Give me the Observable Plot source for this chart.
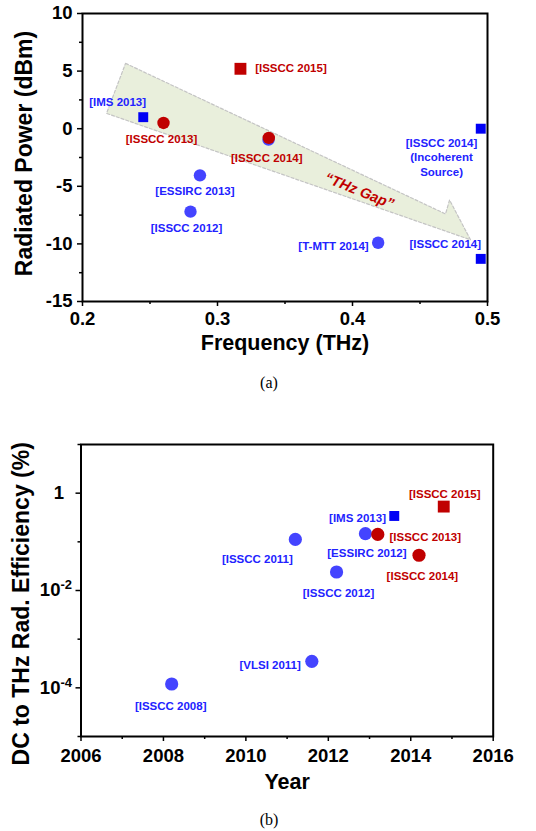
<!DOCTYPE html>
<html><head><meta charset="utf-8">
<script src="https://cdn.jsdelivr.net/npm/d3@7"></script>
<script src="https://cdn.jsdelivr.net/npm/@observablehq/plot@0.6"></script>
<style>
body{margin:0;background:#fff;}
#wrap{position:relative;width:536px;height:831px;overflow:hidden;background:#fff;}
#wrap svg{position:absolute;left:0;overflow:visible;}
.cap{position:absolute;left:0;width:538px;text-align:center;font-family:"Liberation Serif","Times New Roman",serif;font-size:16px;line-height:20px;color:#000;}
</style></head><body>
<div id="wrap">
  <div class="cap" style="top:373px">(a)</div>
  <div class="cap" style="top:810px">(b)</div>
</div>
<script>
// ---------- Panel (a): Radiated power vs frequency ----------
const aBlueCircleRef   = ["[ESSIRC 2013]", "[ISSCC 2012]", "[T-MTT 2014]", ""];
const aBlueCircleFreq  = [0.287, 0.280, 0.419, 0.3378];
const aBlueCirclePower = [-4.05, -7.2, -9.9, -0.95];

const aBlueSquareRef   = ["[IMS 2013]", "[ISSCC 2014]\n(Incoherent\nSource)", "[ISSCC 2014]"];
const aBlueSquareFreq  = [0.245, 0.495, 0.495];
const aBlueSquarePower = [1.0, 0.0, -11.3];

const aRedCircleRef    = ["[ISSCC 2013]", "[ISSCC 2014]"];
const aRedCircleFreq   = [0.260, 0.338];
const aRedCirclePower  = [0.5, -0.8];

const aRedSquareRef    = ["[ISSCC 2015]"];
const aRedSquareFreq   = [0.317];
const aRedSquarePower  = [5.2];

// "THz Gap" arrow outline (data units)
const gapArrowFreq  = [0.2319, 0.4689, 0.4719, 0.4874, 0.2178, 0.2319];
const gapArrowPower = [5.67, -7.40, -6.19, -9.64, 1.33, 5.67];
const gapLabel      = ["\u201CTHz Gap\u201D"];
const gapLabelFreq  = [0.405];
const gapLabelPower = [-5.4];

const aXTicks = [0.2, 0.3, 0.4, 0.5];
const aXMinor = [0.25, 0.35, 0.45];
const aYTicks = [-15, -10, -5, 0, 5, 10];
const aYMinor = [-12.5, -7.5, -2.5, 2.5, 7.5];

// ---------- Panel (b): DC-to-THz radiation efficiency vs year ----------
const bBlueCircleRef  = ["[ISSCC 2008]", "[VLSI 2011]", "[ISSCC 2011]", "[ISSCC 2012]", "[ESSIRC 2012]"];
const bBlueCircleYear = [2008.2, 2011.6, 2011.2, 2012.2, 2012.9];
const bBlueCircleEff  = [1.2e-4, 3.5e-4, 0.112, 0.024, 0.147];

const bBlueSquareRef  = ["[IMS 2013]"];
const bBlueSquareYear = [2013.6];
const bBlueSquareEff  = [0.34];

const bRedCircleRef   = ["[ISSCC 2013]", "[ISSCC 2014]"];
const bRedCircleYear  = [2013.2, 2014.2];
const bRedCircleEff   = [0.142, 0.053];

const bRedSquareRef   = ["[ISSCC 2015]"];
const bRedSquareYear  = [2014.8];
const bRedSquareEff   = [0.53];

const bXTicks = [2006, 2008, 2010, 2012, 2014, 2016];
const bXMinor = [2007, 2009, 2011, 2013, 2015];
const bYTicks = [1e-4, 1e-2, 1];
const bYMinor = [1e-5, 1e-3, 1e-1, 10];

// ---------- styling ----------
const FONT = "'Liberation Sans', Arial, Helvetica, sans-serif";
const RED = "#c00000", BLUE_C = "#4444ff", BLUE_S = "#0000f5", BLUE_T = "#2222ff";

const rows = (xs, ys, refs) => xs.map((x, i) => ({x, y: ys[i], ref: refs[i]}));

// label placement: [dx, dy, anchor] in pixels relative to the marker
function labelMarks(data, place, color) {
  return data.flatMap((d, i) => place[i] ? [Plot.text([d], {
    x: "x", y: "y", text: "ref", dx: place[i][0], dy: place[i][1], textAnchor: place[i][2],
    lineAnchor: "middle", fill: color, fontSize: 11.5, fontWeight: "bold", lineHeight: 1.26
  })] : []);
}

function postProcess(svg) {
  svg.querySelectorAll("text").forEach(t => {
    const tsp = t.querySelectorAll("tspan");
    const nodes = tsp.length ? Array.from(tsp) : [t];
    nodes.forEach(n => {
      const s = n.textContent;
      if (s.includes("^")) {
        const [b, e] = s.split("^");
        n.textContent = b;
        const sup = document.createElementNS("http://www.w3.org/2000/svg", "tspan");
        sup.setAttribute("dy", "-0.55em");
        sup.setAttribute("font-size", "13");
        sup.textContent = e;
        n.appendChild(sup);
      }
    });
  });
}

// ---------- Chart (a) ----------
const aBC = rows(aBlueCircleFreq, aBlueCirclePower, aBlueCircleRef);
const aBS = rows(aBlueSquareFreq, aBlueSquarePower, aBlueSquareRef);
const aRC = rows(aRedCircleFreq, aRedCirclePower, aRedCircleRef);
const aRS = rows(aRedSquareFreq, aRedSquarePower, aRedSquareRef);
const arrow = gapArrowFreq.map((f, i) => ({x: f, y: gapArrowPower[i]}));
const gap = gapLabel.map((t, i) => ({x: gapLabelFreq[i], y: gapLabelPower[i], t}));

const chartA = Plot.plot({
  width: 536, height: 350,
  marginLeft: 82, marginRight: 49, marginTop: 13, marginBottom: 49,
  style: {fontFamily: FONT, fontWeight: "bold", fontSize: "18.5px", background: "transparent", color: "black", overflow: "visible"},
  x: {domain: [0.2, 0.5]},
  y: {domain: [-15, 10]},
  marks: [
    Plot.line(arrow, {x: "x", y: "y", fill: "#e9efdc", stroke: "#c4c4c4", strokeWidth: 1.2, strokeDasharray: "3,2", curve: "linear-closed"}),
    Plot.text(gap, {x: "x", y: "y", text: "t", rotate: 22, fill: RED, fontSize: 14.5, fontWeight: "bold", fontStyle: "italic"}),
    Plot.axisX({ticks: aXTicks, tickFormat: d => d.toFixed(1), tickSize: 5, tickPadding: 5, strokeWidth: 1.5, label: null, fontSize: 18.5}),
    Plot.axisX({ticks: aXMinor, tickFormat: () => "", tickSize: 3, strokeWidth: 1.5, label: null}),
    Plot.axisY({ticks: aYTicks, tickFormat: d => String(d), tickSize: 5, tickPadding: 5, strokeWidth: 1.5, label: null, fontSize: 18.5}),
    Plot.axisY({ticks: aYMinor, tickFormat: () => "", tickSize: 3, strokeWidth: 1.5, label: null}),
    Plot.text(["Frequency (THz)"], {frameAnchor: "bottom", dy: 42, textAnchor: "middle", lineAnchor: "middle", fontSize: 21.5, fontWeight: "bold", fill: "black"}),
    Plot.text(["Radiated Power (dBm)"], {frameAnchor: "left", rotate: -90, dx: -58, dy: -4, textAnchor: "middle", lineAnchor: "middle", fontSize: 23, fontWeight: "bold", fill: "black"}),
    Plot.dot(aBC, {x: "x", y: "y", r: 6.2, fill: BLUE_C, stroke: "none", symbol: "circle"}),
    Plot.dot(aBS, {x: "x", y: "y", r: 5.6, fill: BLUE_S, stroke: "none", symbol: "square"}),
    Plot.dot(aRC, {x: "x", y: "y", r: 6.2, fill: RED, stroke: "none", symbol: "circle"}),
    Plot.dot(aRS, {x: "x", y: "y", r: 6.7, fill: RED, stroke: "none", symbol: "square"}),
    ...labelMarks(aBC, [[-5, 15.5, "middle"], [-4, 15.7, "middle"], [-9.5, 2.7, "end"], null], BLUE_T),
    ...labelMarks(aBS, [[-25.6, -16.3, "middle"], [-39.2, 28, "middle"], [-35.5, -16, "middle"]], BLUE_T),
    ...labelMarks(aRC, [[-2, 15.7, "middle"], [-2, 19, "middle"]], RED),
    ...labelMarks(aRS, [[14.7, -1, "start"]], RED),
    Plot.frame({stroke: "black", strokeWidth: 2})
  ]
});
chartA.style.top = "0px";

// ---------- Chart (b) ----------
const bBC = rows(bBlueCircleYear, bBlueCircleEff, bBlueCircleRef);
const bBS = rows(bBlueSquareYear, bBlueSquareEff, bBlueSquareRef);
const bRC = rows(bRedCircleYear, bRedCircleEff, bRedCircleRef);
const bRS = rows(bRedSquareYear, bRedSquareEff, bRedSquareRef);

const chartB = Plot.plot({
  width: 536, height: 390,
  marginLeft: 80.5, marginRight: 43.3, marginTop: 44, marginBottom: 54,
  style: {fontFamily: FONT, fontWeight: "bold", fontSize: "18.5px", background: "transparent", color: "black", overflow: "visible"},
  x: {domain: [2006, 2016]},
  y: {type: "log", domain: [1e-5, 10]},
  marks: [
    Plot.axisX({ticks: bXTicks, tickFormat: d => String(d), tickSize: 5, tickPadding: 7, strokeWidth: 1.5, label: null, fontSize: 18.5}),
    Plot.axisX({ticks: bXMinor, tickFormat: () => "", tickSize: 3, strokeWidth: 1.5, label: null}),
    Plot.axisY({ticks: bYTicks, tickFormat: d => d === 1 ? "1" : "10^" + Math.round(Math.log10(d)), tickSize: 5, tickPadding: 4, strokeWidth: 1.5, label: null, fontSize: 18.5}),
    Plot.axisY({ticks: bYMinor, tickFormat: () => "", tickSize: 3, strokeWidth: 1.5, label: null}),
    Plot.text(["Year"], {frameAnchor: "bottom", dy: 46, textAnchor: "middle", lineAnchor: "middle", fontSize: 21.5, fontWeight: "bold", fill: "black"}),
    Plot.text(["DC to THz Rad. Efficiency (%)"], {frameAnchor: "left", rotate: -90, dx: -59.7, dy: 13.3, textAnchor: "middle", lineAnchor: "middle", fontSize: 23, fontWeight: "bold", fill: "black"}),
    Plot.dot(bBC, {x: "x", y: "y", r: 6.6, fill: BLUE_C, stroke: "none", symbol: "circle"}),
    Plot.dot(bBS, {x: "x", y: "y", r: 5.6, fill: BLUE_S, stroke: "none", symbol: "square"}),
    Plot.dot(bRC, {x: "x", y: "y", r: 6.6, fill: RED, stroke: "none", symbol: "circle"}),
    Plot.dot(bRS, {x: "x", y: "y", r: 6.7, fill: RED, stroke: "none", symbol: "square"}),
    ...labelMarks(bBC, [[-1, 21.3, "middle"], [-11, 3.3, "end"], [-38, 18.7, "middle"], [2, 20, "middle"], [1.5, 18.3, "middle"]], BLUE_T),
    ...labelMarks(bBS, [[-8.3, 1.3, "end"]], BLUE_T),
    ...labelMarks(bRC, [[11.7, 1.7, "start"], [3.4, 20.3, "middle"]], RED),
    ...labelMarks(bRS, [[1, -13.3, "middle"]], RED),
    Plot.frame({stroke: "black", strokeWidth: 2})
  ]
});
chartB.style.top = "400px";
postProcess(chartB);
// Origin-style alignment of the plain "1" tick label
chartB.querySelectorAll("text").forEach(t => {
  if (t.textContent === "1" && t.closest("[aria-label='y-axis tick label']")) t.setAttribute("dx", "-8");
});

const wrap = document.getElementById("wrap");
wrap.appendChild(chartA);
wrap.appendChild(chartB);
</script>
</body></html>
